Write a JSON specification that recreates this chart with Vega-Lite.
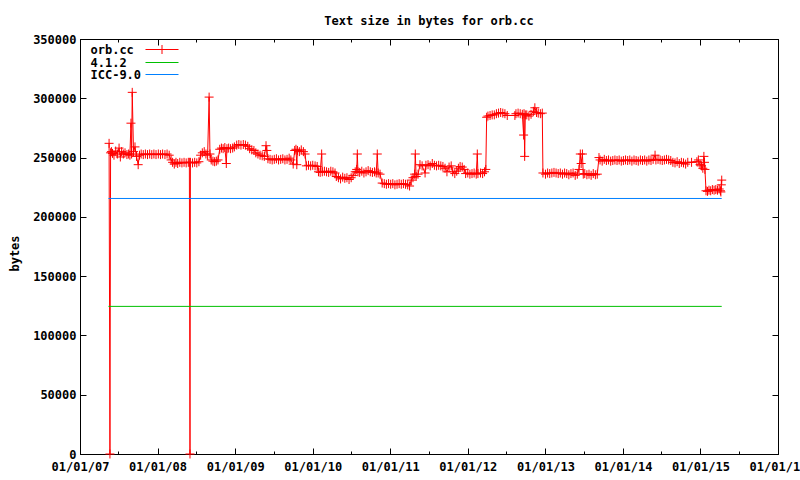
{
  "$schema": "https://vega.github.io/schema/vega-lite/v6.json",
  "width": 698,
  "height": 415,
  "autosize": {"type": "none"},
  "padding": {"left": 80, "top": 39, "right": 22, "bottom": 26},
  "background": "white",
  "title": {"text": "Text size in bytes for orb.cc", "frame": "group", "anchor": "middle", "offset": -4, "baseline": "alphabetic", "font": "DejaVu Sans Mono", "fontSize": 12, "fontWeight": "bold", "color": "black"},
  "config": {
    "view": {"stroke": "black", "strokeWidth": 1},
    "axis": {"grid": false, "domainColor": "black", "tickColor": "black", "labelColor": "black", "labelFont": "DejaVu Sans Mono", "labelFontSize": 12, "labelFontWeight": "bold", "titleFont": "DejaVu Sans Mono", "titleFontSize": 12, "titleFontWeight": "bold", "titleColor": "black", "labelFlush": false, "labelOverlap": false, "tickSize": -6}
  },
  "datasets": {
    "orb": [
      {"d": "2007-05-18", "v": 262000}, {"d": "2007-05-22", "v": 0}, {"d": "2007-05-25", "v": 254000}, {"d": "2007-05-29", "v": 255000},
      {"d": "2007-06-03", "v": 253500}, {"d": "2007-06-10", "v": 252000}, {"d": "2007-06-18", "v": 255500}, {"d": "2007-06-26", "v": 253000},
      {"d": "2007-07-04", "v": 258000}, {"d": "2007-07-10", "v": 250500}, {"d": "2007-07-16", "v": 255000}, {"d": "2007-07-24", "v": 253000},
      {"d": "2007-08-01", "v": 254000}, {"d": "2007-08-10", "v": 252500}, {"d": "2007-08-18", "v": 253000}, {"d": "2007-08-24", "v": 252000},
      {"d": "2007-08-29", "v": 279000}, {"d": "2007-09-01", "v": 253000}, {"d": "2007-09-04", "v": 305000}, {"d": "2007-09-10", "v": 255000},
      {"d": "2007-09-17", "v": 259000}, {"d": "2007-09-24", "v": 251000}, {"d": "2007-10-02", "v": 244000}, {"d": "2007-10-08", "v": 252000},
      {"d": "2007-10-16", "v": 253000}, {"d": "2007-10-26", "v": 252500}, {"d": "2007-11-05", "v": 253000}, {"d": "2007-11-15", "v": 252500},
      {"d": "2007-11-25", "v": 253000}, {"d": "2007-12-05", "v": 252500}, {"d": "2007-12-15", "v": 253000}, {"d": "2007-12-25", "v": 252500},
      {"d": "2008-01-05", "v": 253000}, {"d": "2008-01-15", "v": 252500}, {"d": "2008-01-25", "v": 253000}, {"d": "2008-02-05", "v": 252500},
      {"d": "2008-02-15", "v": 253000}, {"d": "2008-02-25", "v": 252000}, {"d": "2008-03-05", "v": 248000}, {"d": "2008-03-12", "v": 246000},
      {"d": "2008-03-20", "v": 244500}, {"d": "2008-03-28", "v": 246000}, {"d": "2008-04-05", "v": 245000}, {"d": "2008-04-15", "v": 246000},
      {"d": "2008-04-25", "v": 245500}, {"d": "2008-05-05", "v": 246000}, {"d": "2008-05-15", "v": 245500}, {"d": "2008-05-25", "v": 246000},
      {"d": "2008-05-30", "v": 246000}, {"d": "2008-06-02", "v": 0}, {"d": "2008-06-04", "v": 246000}, {"d": "2008-06-14", "v": 245500},
      {"d": "2008-06-24", "v": 246000}, {"d": "2008-07-04", "v": 245500}, {"d": "2008-07-14", "v": 246500}, {"d": "2008-07-22", "v": 252000},
      {"d": "2008-07-30", "v": 254000}, {"d": "2008-08-08", "v": 255000}, {"d": "2008-08-16", "v": 253000}, {"d": "2008-08-24", "v": 252000},
      {"d": "2008-08-31", "v": 301000}, {"d": "2008-09-04", "v": 253000}, {"d": "2008-09-10", "v": 248000}, {"d": "2008-09-18", "v": 247000},
      {"d": "2008-09-26", "v": 246500}, {"d": "2008-10-04", "v": 247000}, {"d": "2008-10-12", "v": 248000}, {"d": "2008-10-20", "v": 257000},
      {"d": "2008-10-28", "v": 258000}, {"d": "2008-11-05", "v": 257500}, {"d": "2008-11-13", "v": 258500}, {"d": "2008-11-20", "v": 245000},
      {"d": "2008-11-23", "v": 257500}, {"d": "2008-12-01", "v": 258000}, {"d": "2008-12-10", "v": 257500}, {"d": "2008-12-20", "v": 258000},
      {"d": "2008-12-28", "v": 259000}, {"d": "2009-01-08", "v": 260500}, {"d": "2009-01-18", "v": 261000}, {"d": "2009-01-28", "v": 260500},
      {"d": "2009-02-08", "v": 261000}, {"d": "2009-02-18", "v": 260500}, {"d": "2009-03-01", "v": 259500}, {"d": "2009-03-10", "v": 257500},
      {"d": "2009-03-20", "v": 256500}, {"d": "2009-03-30", "v": 256000}, {"d": "2009-04-08", "v": 254000}, {"d": "2009-04-18", "v": 253000},
      {"d": "2009-04-28", "v": 252000}, {"d": "2009-05-08", "v": 251500}, {"d": "2009-05-18", "v": 251000}, {"d": "2009-05-26", "v": 260000},
      {"d": "2009-05-30", "v": 256000}, {"d": "2009-06-04", "v": 249000}, {"d": "2009-06-14", "v": 248500}, {"d": "2009-06-24", "v": 248000},
      {"d": "2009-07-04", "v": 248500}, {"d": "2009-07-14", "v": 249000}, {"d": "2009-07-24", "v": 248000}, {"d": "2009-08-03", "v": 248500},
      {"d": "2009-08-13", "v": 249000}, {"d": "2009-08-23", "v": 248000}, {"d": "2009-09-02", "v": 248500}, {"d": "2009-09-12", "v": 249500},
      {"d": "2009-09-20", "v": 248000}, {"d": "2009-10-01", "v": 244500}, {"d": "2009-10-08", "v": 256000}, {"d": "2009-10-14", "v": 257000},
      {"d": "2009-10-18", "v": 244000}, {"d": "2009-10-21", "v": 256000}, {"d": "2009-10-30", "v": 255000}, {"d": "2009-11-08", "v": 256500},
      {"d": "2009-11-18", "v": 255000}, {"d": "2009-11-26", "v": 253000}, {"d": "2009-12-02", "v": 243000}, {"d": "2009-12-12", "v": 243500},
      {"d": "2009-12-22", "v": 243000}, {"d": "2010-01-01", "v": 243500}, {"d": "2010-01-12", "v": 243000}, {"d": "2010-01-22", "v": 242500},
      {"d": "2010-01-28", "v": 238000}, {"d": "2010-02-05", "v": 237500}, {"d": "2010-02-12", "v": 253000}, {"d": "2010-02-15", "v": 238000},
      {"d": "2010-02-25", "v": 238500}, {"d": "2010-03-07", "v": 238000}, {"d": "2010-03-17", "v": 237500}, {"d": "2010-03-27", "v": 238500},
      {"d": "2010-04-06", "v": 238000}, {"d": "2010-04-16", "v": 237000}, {"d": "2010-04-22", "v": 234000}, {"d": "2010-05-02", "v": 233000},
      {"d": "2010-05-12", "v": 232000}, {"d": "2010-05-22", "v": 233500}, {"d": "2010-06-01", "v": 232500}, {"d": "2010-06-11", "v": 233000},
      {"d": "2010-06-21", "v": 231500}, {"d": "2010-07-01", "v": 233000}, {"d": "2010-07-10", "v": 235000}, {"d": "2010-07-20", "v": 238000},
      {"d": "2010-07-27", "v": 240000}, {"d": "2010-07-30", "v": 253000}, {"d": "2010-08-02", "v": 238000}, {"d": "2010-08-10", "v": 237500},
      {"d": "2010-08-20", "v": 238500}, {"d": "2010-08-30", "v": 237000}, {"d": "2010-09-09", "v": 238000}, {"d": "2010-09-19", "v": 239000},
      {"d": "2010-09-29", "v": 238000}, {"d": "2010-10-09", "v": 237500}, {"d": "2010-10-19", "v": 238000}, {"d": "2010-10-27", "v": 237000},
      {"d": "2010-11-01", "v": 253000}, {"d": "2010-11-05", "v": 237000}, {"d": "2010-11-14", "v": 236000}, {"d": "2010-11-24", "v": 228500},
      {"d": "2010-12-04", "v": 228000}, {"d": "2010-12-14", "v": 227500}, {"d": "2010-12-24", "v": 228000}, {"d": "2011-01-03", "v": 227500},
      {"d": "2011-01-13", "v": 228000}, {"d": "2011-01-23", "v": 227000}, {"d": "2011-02-02", "v": 227500}, {"d": "2011-02-12", "v": 228000},
      {"d": "2011-02-22", "v": 227500}, {"d": "2011-03-04", "v": 228000}, {"d": "2011-03-14", "v": 227500}, {"d": "2011-03-24", "v": 227000},
      {"d": "2011-04-02", "v": 226000}, {"d": "2011-04-10", "v": 231000}, {"d": "2011-04-18", "v": 233000}, {"d": "2011-04-26", "v": 236000},
      {"d": "2011-04-29", "v": 253000}, {"d": "2011-05-03", "v": 234000}, {"d": "2011-05-12", "v": 236000}, {"d": "2011-05-21", "v": 244000},
      {"d": "2011-05-31", "v": 243000}, {"d": "2011-06-14", "v": 237000}, {"d": "2011-06-18", "v": 243500}, {"d": "2011-06-28", "v": 244000},
      {"d": "2011-07-08", "v": 243000}, {"d": "2011-07-18", "v": 245000}, {"d": "2011-07-28", "v": 243500}, {"d": "2011-08-07", "v": 243000},
      {"d": "2011-08-17", "v": 243500}, {"d": "2011-08-27", "v": 243000}, {"d": "2011-09-06", "v": 242500}, {"d": "2011-09-16", "v": 241000},
      {"d": "2011-09-25", "v": 238000}, {"d": "2011-10-05", "v": 242000}, {"d": "2011-10-15", "v": 243000}, {"d": "2011-10-22", "v": 238000},
      {"d": "2011-11-01", "v": 236500}, {"d": "2011-11-10", "v": 238500}, {"d": "2011-11-18", "v": 241000}, {"d": "2011-11-26", "v": 242500},
      {"d": "2011-12-06", "v": 242000}, {"d": "2011-12-15", "v": 240000}, {"d": "2011-12-22", "v": 236500}, {"d": "2012-01-01", "v": 237000},
      {"d": "2012-01-11", "v": 236000}, {"d": "2012-01-21", "v": 236500}, {"d": "2012-01-31", "v": 237000}, {"d": "2012-02-10", "v": 236000},
      {"d": "2012-02-15", "v": 253000}, {"d": "2012-02-18", "v": 236500}, {"d": "2012-03-01", "v": 237000}, {"d": "2012-03-11", "v": 236500},
      {"d": "2012-03-20", "v": 238000}, {"d": "2012-03-26", "v": 240000}, {"d": "2012-03-30", "v": 284000}, {"d": "2012-04-05", "v": 285000},
      {"d": "2012-04-15", "v": 285500}, {"d": "2012-04-25", "v": 286000}, {"d": "2012-05-05", "v": 286000}, {"d": "2012-05-15", "v": 287000},
      {"d": "2012-05-25", "v": 287500}, {"d": "2012-06-04", "v": 288000}, {"d": "2012-06-14", "v": 287500}, {"d": "2012-06-24", "v": 287000},
      {"d": "2012-07-05", "v": 285500}, {"d": "2012-08-10", "v": 285500}, {"d": "2012-08-15", "v": 287000}, {"d": "2012-08-25", "v": 287500},
      {"d": "2012-09-04", "v": 287000}, {"d": "2012-09-14", "v": 286500}, {"d": "2012-09-20", "v": 269000}, {"d": "2012-09-22", "v": 287000},
      {"d": "2012-09-25", "v": 251000}, {"d": "2012-09-28", "v": 286000}, {"d": "2012-10-05", "v": 286000}, {"d": "2012-10-15", "v": 285000},
      {"d": "2012-10-25", "v": 286500}, {"d": "2012-11-05", "v": 289000}, {"d": "2012-11-12", "v": 292000}, {"d": "2012-11-20", "v": 288000},
      {"d": "2012-11-28", "v": 287500}, {"d": "2012-12-08", "v": 287000}, {"d": "2012-12-17", "v": 287500}, {"d": "2012-12-20", "v": 237000},
      {"d": "2013-01-01", "v": 236000}, {"d": "2013-01-11", "v": 237000}, {"d": "2013-01-21", "v": 236500}, {"d": "2013-01-31", "v": 237000},
      {"d": "2013-02-10", "v": 237500}, {"d": "2013-02-20", "v": 237000}, {"d": "2013-03-02", "v": 236500}, {"d": "2013-03-12", "v": 237000},
      {"d": "2013-03-22", "v": 236000}, {"d": "2013-04-01", "v": 237000}, {"d": "2013-04-11", "v": 236500}, {"d": "2013-04-21", "v": 235500},
      {"d": "2013-05-01", "v": 236500}, {"d": "2013-05-11", "v": 237000}, {"d": "2013-05-21", "v": 235000}, {"d": "2013-05-31", "v": 236000},
      {"d": "2013-06-08", "v": 240000}, {"d": "2013-06-14", "v": 253000}, {"d": "2013-06-18", "v": 245000}, {"d": "2013-06-24", "v": 253000},
      {"d": "2013-06-28", "v": 236000}, {"d": "2013-07-05", "v": 236500}, {"d": "2013-07-15", "v": 235500}, {"d": "2013-07-25", "v": 236000},
      {"d": "2013-08-04", "v": 235000}, {"d": "2013-08-14", "v": 236500}, {"d": "2013-08-24", "v": 235500}, {"d": "2013-09-02", "v": 236000},
      {"d": "2013-09-10", "v": 250000}, {"d": "2013-09-15", "v": 248000}, {"d": "2013-09-25", "v": 247000}, {"d": "2013-10-05", "v": 248500},
      {"d": "2013-10-15", "v": 247500}, {"d": "2013-10-25", "v": 248000}, {"d": "2013-11-04", "v": 247000}, {"d": "2013-11-14", "v": 247500},
      {"d": "2013-11-24", "v": 248000}, {"d": "2013-12-04", "v": 247500}, {"d": "2013-12-14", "v": 248000}, {"d": "2013-12-24", "v": 247000},
      {"d": "2014-01-03", "v": 247500}, {"d": "2014-01-13", "v": 248000}, {"d": "2014-01-23", "v": 247500}, {"d": "2014-02-02", "v": 248000},
      {"d": "2014-02-12", "v": 247000}, {"d": "2014-02-22", "v": 248000}, {"d": "2014-03-04", "v": 247500}, {"d": "2014-03-14", "v": 247000},
      {"d": "2014-03-24", "v": 248000}, {"d": "2014-04-03", "v": 247500}, {"d": "2014-04-13", "v": 248000}, {"d": "2014-04-23", "v": 247000},
      {"d": "2014-05-03", "v": 248000}, {"d": "2014-05-13", "v": 247500}, {"d": "2014-05-23", "v": 248500}, {"d": "2014-06-01", "v": 252000},
      {"d": "2014-06-05", "v": 248000}, {"d": "2014-06-15", "v": 248500}, {"d": "2014-06-25", "v": 248000}, {"d": "2014-07-05", "v": 247500},
      {"d": "2014-07-15", "v": 248000}, {"d": "2014-07-25", "v": 248500}, {"d": "2014-08-04", "v": 248000}, {"d": "2014-08-14", "v": 247500},
      {"d": "2014-08-24", "v": 246000}, {"d": "2014-09-03", "v": 245500}, {"d": "2014-09-13", "v": 246500}, {"d": "2014-09-23", "v": 245000},
      {"d": "2014-10-03", "v": 246000}, {"d": "2014-10-13", "v": 245500}, {"d": "2014-10-23", "v": 244500}, {"d": "2014-11-02", "v": 246000},
      {"d": "2014-11-20", "v": 246000}, {"d": "2014-12-15", "v": 246500}, {"d": "2014-12-22", "v": 248000}, {"d": "2014-12-30", "v": 244000},
      {"d": "2015-01-06", "v": 243000}, {"d": "2015-01-12", "v": 241000}, {"d": "2015-01-17", "v": 251000}, {"d": "2015-01-20", "v": 246000},
      {"d": "2015-01-22", "v": 240000}, {"d": "2015-01-27", "v": 222000}, {"d": "2015-02-03", "v": 221500}, {"d": "2015-02-10", "v": 222500},
      {"d": "2015-02-18", "v": 222000}, {"d": "2015-02-26", "v": 223000}, {"d": "2015-03-06", "v": 222500}, {"d": "2015-03-14", "v": 223000},
      {"d": "2015-03-22", "v": 222500}, {"d": "2015-03-30", "v": 223500}, {"d": "2015-04-05", "v": 222000}, {"d": "2015-04-07", "v": 221000},
      {"d": "2015-04-09", "v": 227000}, {"d": "2015-04-11", "v": 231000}
    ],
    "ref": [
      {"d": "2007-05-15", "v": 124500, "s": "4.1.2"},
      {"d": "2015-04-11", "v": 124500, "s": "4.1.2"},
      {"d": "2007-05-15", "v": 215500, "s": "ICC-9.0"},
      {"d": "2015-04-11", "v": 215500, "s": "ICC-9.0"}
    ]
  },
  "layer": [
    {
      "data": {"name": "orb"},
      "transform": [{"calculate": "'orb.cc'", "as": "s"}],
      "mark": {"type": "line", "strokeWidth": 1},
      "encoding": {
        "x": {"field": "d", "type": "temporal",
          "scale": {"type": "utc", "domain": [{"year": 2007, "month": 1, "date": 1, "utc": true}, {"year": 2016, "month": 1, "date": 1, "utc": true}]},
          "axis": {"orient": "bottom", "title": null, "format": "%m/%d/%y", "labelPadding": 13,
            "values": [{"year": 2007, "month": 1, "date": 1, "utc": true}, {"year": 2008, "month": 1, "date": 1, "utc": true}, {"year": 2009, "month": 1, "date": 1, "utc": true}, {"year": 2010, "month": 1, "date": 1, "utc": true}, {"year": 2011, "month": 1, "date": 1, "utc": true}, {"year": 2012, "month": 1, "date": 1, "utc": true}, {"year": 2013, "month": 1, "date": 1, "utc": true}, {"year": 2014, "month": 1, "date": 1, "utc": true}, {"year": 2015, "month": 1, "date": 1, "utc": true}, {"year": 2016, "month": 1, "date": 1, "utc": true}]}},
        "y": {"field": "v", "type": "quantitative",
          "scale": {"domain": [0, 350000], "nice": false, "zero": true},
          "axis": {"orient": "left", "title": "bytes", "format": "d", "labelPadding": 10, "values": [0, 50000, 100000, 150000, 200000, 250000, 300000, 350000],
            "titleX": -66, "titleY": 214, "titleAngle": 270, "titleAlign": "center", "titleBaseline": "middle"}},
        "color": {"field": "s", "type": "nominal",
          "scale": {"domain": ["orb.cc", "4.1.2", "ICC-9.0"], "range": ["#ff0000", "#00c000", "#0080ff"]},
          "legend": {"orient": "none", "legendX": 7, "legendY": 4.5, "title": null, "padding": 0,
            "symbolSize": 81, "symbolStrokeWidth": 1, "symbolOffset": 69, "labelOffset": -77.5, "rowPadding": 0,
            "labelFont": "DejaVu Sans Mono", "labelFontSize": 12, "labelFontWeight": "bold", "labelColor": "black",
            "encode": {"symbols": {"update": {"shape": [{"test": "datum.value === 'orb.cc'", "value": "M-3.667,0L3.667,0M0,-1L0,1"}, {"value": "M-3.667,0L3.667,0"}]}}}}}
      }
    },
    {
      "data": {"name": "orb"},
      "mark": {"type": "point", "shape": "M-1,0L1,0M0,-1L0,1", "size": 81, "filled": false, "stroke": "#ff0000", "strokeWidth": 1, "opacity": 1},
      "encoding": {
        "x": {"field": "d", "type": "temporal", "axis": null},
        "y": {"field": "v", "type": "quantitative", "axis": null}
      }
    },
    {
      "data": {"name": "ref"},
      "mark": {"type": "line", "strokeWidth": 1},
      "encoding": {
        "x": {"field": "d", "type": "temporal", "axis": null},
        "y": {"field": "v", "type": "quantitative", "axis": null},
        "color": {"field": "s", "type": "nominal"}
      }
    },
    {
      "data": {"name": "ref"},
      "mark": {"type": "point", "opacity": 0},
      "encoding": {
        "x": {"field": "d", "type": "temporal",
          "axis": {"orient": "top", "labels": false, "title": null,
            "values": [{"year": 2007, "month": 1, "date": 1, "utc": true}, {"year": 2008, "month": 1, "date": 1, "utc": true}, {"year": 2009, "month": 1, "date": 1, "utc": true}, {"year": 2010, "month": 1, "date": 1, "utc": true}, {"year": 2011, "month": 1, "date": 1, "utc": true}, {"year": 2012, "month": 1, "date": 1, "utc": true}, {"year": 2013, "month": 1, "date": 1, "utc": true}, {"year": 2014, "month": 1, "date": 1, "utc": true}, {"year": 2015, "month": 1, "date": 1, "utc": true}, {"year": 2016, "month": 1, "date": 1, "utc": true}]}},
        "y": {"field": "v", "type": "quantitative",
          "axis": {"orient": "right", "labels": false, "title": null, "values": [0, 50000, 100000, 150000, 200000, 250000, 300000, 350000]}}
      }
    },
    {
      "data": {"name": "ref"},
      "mark": {"type": "point", "opacity": 0},
      "encoding": {
        "x": {"field": "d", "type": "temporal",
          "axis": {"orient": "bottom", "labels": false, "title": null, "domain": false, "tickSize": -3,
            "values": [{"year": 2007, "month": 7, "date": 1, "utc": true}, {"year": 2008, "month": 7, "date": 1, "utc": true}, {"year": 2009, "month": 7, "date": 1, "utc": true}, {"year": 2010, "month": 7, "date": 1, "utc": true}, {"year": 2011, "month": 7, "date": 1, "utc": true}, {"year": 2012, "month": 7, "date": 1, "utc": true}, {"year": 2013, "month": 7, "date": 1, "utc": true}, {"year": 2014, "month": 7, "date": 1, "utc": true}, {"year": 2015, "month": 7, "date": 1, "utc": true}]}},
        "y": {"field": "v", "type": "quantitative", "axis": null}
      }
    },
    {
      "data": {"name": "ref"},
      "mark": {"type": "point", "opacity": 0},
      "encoding": {
        "x": {"field": "d", "type": "temporal",
          "axis": {"orient": "top", "labels": false, "title": null, "domain": false, "tickSize": -3,
            "values": [{"year": 2007, "month": 7, "date": 1, "utc": true}, {"year": 2008, "month": 7, "date": 1, "utc": true}, {"year": 2009, "month": 7, "date": 1, "utc": true}, {"year": 2010, "month": 7, "date": 1, "utc": true}, {"year": 2011, "month": 7, "date": 1, "utc": true}, {"year": 2012, "month": 7, "date": 1, "utc": true}, {"year": 2013, "month": 7, "date": 1, "utc": true}, {"year": 2014, "month": 7, "date": 1, "utc": true}, {"year": 2015, "month": 7, "date": 1, "utc": true}]}},
        "y": {"field": "v", "type": "quantitative", "axis": null}
      }
    }
  ],
  "resolve": {"axis": {"x": "independent", "y": "independent"}}
}
